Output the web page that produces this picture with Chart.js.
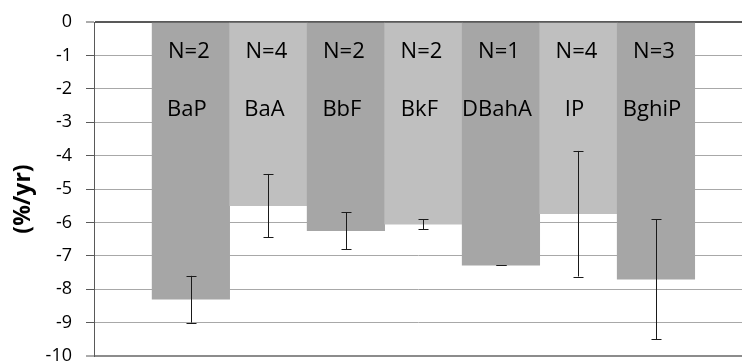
<!DOCTYPE html>
<html><head><meta charset="utf-8">
<script src="https://cdn.jsdelivr.net/npm/chart.js@4.4.0/dist/chart.umd.min.js"></script>
<style>html,body{margin:0;padding:0;background:#fff;overflow:hidden}#wrap{width:742px;height:363px;position:relative}</style>
</head><body><div id="wrap"><canvas id="c" width="742" height="363"></canvas></div>
<script>
// ---- data ----
const categories = ['BaP', 'BaA', 'BbF', 'BkF', 'DBahA', 'IP', 'BghiP'];
const sampleCounts = [2, 4, 2, 2, 1, 4, 3];
const trendValues = [-8.3, -5.5, -6.25, -6.05, -7.28, -5.74, -7.7];
const errorValues = [0.7, 0.95, 0.55, 0.15, 0.0, 1.88, 1.8];
const yTickValues = [0, -1, -2, -3, -4, -5, -6, -7, -8, -9, -10];
const yAxisTitle = '(%/yr)';

const DARK = '#a6a6a6', LIGHT = '#bfbfbf';
const FONT = "'Open Sans', 'Liberation Sans', sans-serif";

const overlayPlugin = {
  id: 'overlay',
  afterDatasetsDraw(chart) {
    const ctx = chart.ctx;
    const meta = chart.getDatasetMeta(0);
    const y = chart.scales.y;
    const zeroPx = y.getPixelForValue(0);
    ctx.save();
    // error bars
    ctx.strokeStyle = '#1a1a1a';
    ctx.lineWidth = 1;
    meta.data.forEach((bar, i) => {
      const v = trendValues[i], e = errorValues[i];
      const x = Math.round(bar.x) + 0.5;
      const yTop = y.getPixelForValue(v + e);
      const yBot = y.getPixelForValue(v - e);
      ctx.beginPath();
      ctx.moveTo(x, yTop); ctx.lineTo(x, yBot);
      ctx.moveTo(x - 5, Math.round(yTop) + 0.5); ctx.lineTo(x + 5, Math.round(yTop) + 0.5);
      ctx.moveTo(x - 5, Math.round(yBot) + 0.5); ctx.lineTo(x + 5, Math.round(yBot) + 0.5);
      ctx.stroke();
    });
    // labels inside bars
    ctx.fillStyle = '#000';
    ctx.textAlign = 'center';
    ctx.textBaseline = 'alphabetic';
    ctx.font = '22px ' + FONT;
    meta.data.forEach((bar, i) => {
      ctx.fillText('N=' + sampleCounts[i], bar.x - 2, zeroPx + 36);
      ctx.fillText(categories[i], bar.x - 4, zeroPx + 93.5);
    });
    ctx.restore();
  },
  afterDraw(chart) {
    const ctx = chart.ctx;
    ctx.save();
    ctx.translate(23.5, 199);
    ctx.rotate(-Math.PI / 2);
    ctx.font = 'bold 23px ' + FONT;
    ctx.fillStyle = '#000';
    ctx.textAlign = 'center';
    ctx.textBaseline = 'middle';
    ctx.fillText(yAxisTitle, 0, 0);
    ctx.restore();
  }
};

new Chart(document.getElementById('c'), {
  type: 'bar',
  data: {
    datasets: [{
      data: trendValues.map((v, i) => ({ x: i, y: v })),
      backgroundColor: ctx => (ctx.dataIndex % 2 === 0 ? DARK : LIGHT),
      borderWidth: 0,
      barPercentage: 1,
      categoryPercentage: 1
    }]
  },
  options: {
    responsive: false,
    animation: false,
    devicePixelRatio: 1,
    layout: { padding: { top: 22, bottom: 7, left: 0, right: 0 } },
    plugins: { legend: { display: false }, tooltip: { enabled: false } },
    scales: {
      x: {
        type: 'linear',
        display: false,
        offset: false,
        min: -1.25,
        max: 7.11,
        ticks: { stepSize: 1, includeBounds: false },
        grid: { offset: false, display: false }
      },
      y: {
        min: -10,
        max: 0,
        afterBuildTicks: s => { s.ticks = yTickValues.map(v => ({ value: v })); },
        afterFit: s => { s.width = 94; s.paddingTop = 0; s.paddingBottom = 0; },
        ticks: {
          padding: 14,
          color: '#000',
          font: { family: FONT, size: 18 },
          callback: v => String(v)
        },
        grid: {
          color: c => (c.tick && c.tick.value === 0 ? '#595959' : (c.tick && c.tick.value === -10 ? '#8c8c8c' : '#a8a8a8')),
          lineWidth: c => (c.tick && (c.tick.value === 0 || c.tick.value === -10) ? 2 : 1),
          tickLength: 8,
          tickColor: '#595959',
          tickWidth: 1,
          drawTicks: true
        },
        border: { display: true, color: '#595959', width: 1 }
      }
    }
  },
  plugins: [overlayPlugin]
});
</script>
</body></html>
